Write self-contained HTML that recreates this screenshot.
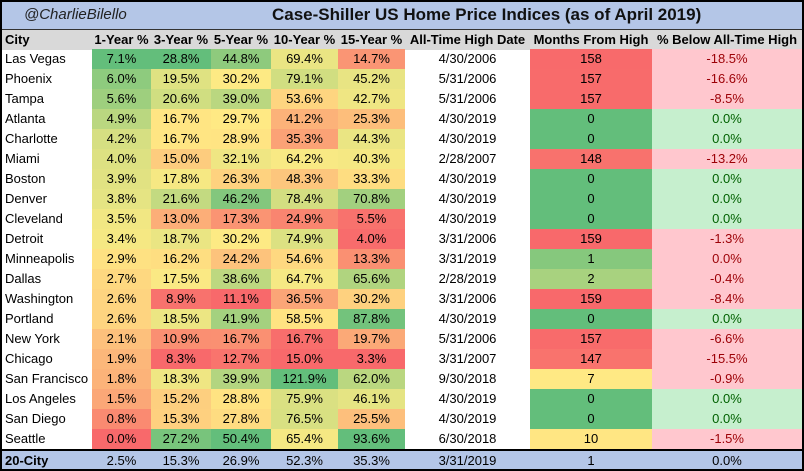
<!DOCTYPE html>
<html><head><meta charset="utf-8">
<style>
body{margin:0;width:804px;height:471px;overflow:hidden;background:#fff;font-family:"Liberation Sans",sans-serif;}
#wrap{position:absolute;left:0;top:0;width:800px;height:467px;border:2px solid #000;overflow:hidden;}
.c{position:absolute;height:20px;line-height:20px;font-size:13px;color:#000;text-align:center;white-space:nowrap;}
.h{font-weight:bold;background:#d9d9d9;}
</style></head><body>
<div id="wrap">
 <div style="position:absolute;left:0;top:0;width:800px;height:27px;background:#b4c6e7;border-bottom:1px solid #333;"></div>
 <div style="position:absolute;left:22px;top:4px;font-size:15px;font-style:italic;color:#222;">@CharlieBilello</div>
 <div style="position:absolute;left:270px;top:3px;font-size:17px;font-weight:bold;color:#111;">Case-Shiller US Home Price Indices (as of April 2019)</div>
 <div style="position:absolute;left:0;top:28px;width:800px;height:20px;background:#d9d9d9;"></div>
 <div style="position:absolute;left:0;top:447px;width:800px;height:20px;background:#b4c6e7;border-top:2px solid #000;"></div>
</div>
<script>
const cities=["Las Vegas","Phoenix","Tampa","Atlanta","Charlotte","Miami","Boston","Denver","Cleveland","Detroit","Minneapolis","Dallas","Washington","Portland","New York","Chicago","San Francisco","Los Angeles","San Diego","Seattle"];
const y1=[7.1,6.0,5.6,4.9,4.2,4.0,3.9,3.8,3.5,3.4,2.9,2.7,2.6,2.6,2.1,1.9,1.8,1.5,0.8,0.0];
const y3=[28.8,19.5,20.6,16.7,16.7,15.0,17.8,21.6,13.0,18.7,16.2,17.5,8.9,18.5,10.9,8.3,18.3,15.2,15.3,27.2];
const y5=[44.8,30.2,39.0,29.7,28.9,32.1,26.3,46.2,17.3,30.2,24.2,38.6,11.1,41.9,16.7,12.7,39.9,28.8,27.8,50.4];
const y10=[69.4,79.1,53.6,41.2,35.3,64.2,48.3,78.4,24.9,74.9,54.6,64.7,36.5,58.5,16.7,15.0,121.9,75.9,76.5,65.4];
const y15=[14.7,45.2,42.7,25.3,44.3,40.3,33.3,70.8,5.5,4.0,13.3,65.6,30.2,87.8,19.7,3.3,62.0,46.1,25.5,93.6];
const athDates=["4/30/2006","5/31/2006","5/31/2006","4/30/2019","4/30/2019","2/28/2007","4/30/2019","4/30/2019","4/30/2019","3/31/2006","3/31/2019","2/28/2019","3/31/2006","4/30/2019","5/31/2006","3/31/2007","9/30/2018","4/30/2019","4/30/2019","6/30/2018"];
const months=[158,157,157,0,0,148,0,0,0,159,1,2,159,0,157,147,7,0,0,10];
const below=[-18.5,-16.6,-8.5,0,0,-13.2,0,0,0,-1.3,-0.01,-0.4,-8.4,0,-6.6,-15.5,-0.9,0,0,-1.5];
const total=["20-City","2.5%","15.3%","26.9%","52.3%","35.3%","3/31/2019","1","0.0%"];
const headers=["City","1-Year %","3-Year %","5-Year %","10-Year %","15-Year %","All-Time High Date","Months From High","% Below All-Time High"];
const colX=[0,90,149,209,269,336,403,528,650,800];
const W=document.getElementById('wrap');
function cell(x,y,w,txt,name,st){const d=document.createElement('div');d.className='c';d.style.left=x+'px';d.style.top=y+'px';d.style.width=w+'px';d.textContent=txt;Object.assign(d.style,st||{});


W.appendChild(d);return d;}
const R=[248,105,107],Y=[255,235,132],G=[99,190,123];
function mix(a,b,t){return 'rgb('+a.map((v,i)=>Math.round(v+(b[i]-v)*t)).join(',')+')';}
function scale(arr,v,lowGood){const s=[...arr].sort((a,b)=>a-b);const mn=s[0],mx=s[s.length-1],md=(s[9]+s[10])/2;let lo=lowGood?G:R,hi=lowGood?R:G;
if(v<=md)return mix(lo,Y,md===mn?1:(v-mn)/(md-mn));return mix(Y,hi,(v-md)/(mx-md));}
headers.forEach((h,i)=>cell(colX[i]+(i==0?3:0),28,colX[i+1]-colX[i]-(i==0?3:0),h,'header-'+h.toLowerCase().replace(/[^a-z0-9]+/g,'-'),{fontWeight:'bold',textAlign:i==0?'left':'center'}));
const pcts=[y1,y3,y5,y10,y15];
cities.forEach((c,r)=>{const y=47+r*20;
 cell(3,y,87,c,'city-'+c.toLowerCase().replace(/ /g,'-'),{textAlign:'left'});
 pcts.forEach((a,k)=>cell(colX[k+1],y,colX[k+2]-colX[k+1],a[r].toFixed(1)+'%','pct-cell',{background:scale(a,a[r],false)}));
 cell(colX[6],y,colX[7]-colX[6],athDates[r],'ath-date');
 cell(colX[7],y,colX[8]-colX[7],String(months[r]),'months-from-high',{background:scale(months,months[r],true)});
 const neg=below[r]<0;
 cell(colX[8],y,colX[9]-colX[8],(neg&&below[r]<=-0.05?below[r].toFixed(1):'0.0')+'%','pct-below-high',{background:neg?'#ffc7ce':'#c6efce',color:neg?'#9c0006':'#006100'});
});
total.forEach((t,i)=>cell(colX[i]+(i==0?3:0),449,colX[i+1]-colX[i]-(i==0?3:0),t,'total-'+i,{fontWeight:i==0?'bold':'normal',textAlign:i==0?'left':'center'}));
</script>
</body></html>
